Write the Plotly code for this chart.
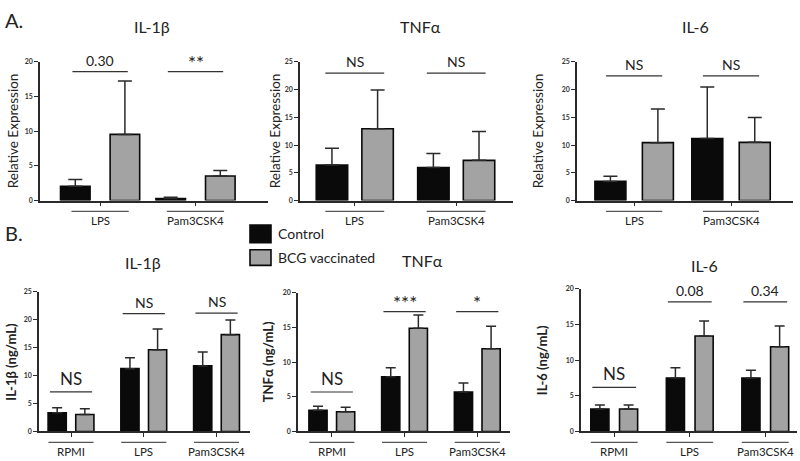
import plotly.graph_objects as go

W, H = 800, 461

# ---------------- data ----------------
groups_A = ["LPS", "Pam3CSK4"]
groups_B = ["RPMI", "LPS", "Pam3CSK4"]
series_names = ["Control", "BCG vaccinated"]

# Panel A (Relative Expression): mean and upper error
a_il1b_ctrl, a_il1b_ctrl_err = [2.05, 0.28], [0.97, 0.2]
a_il1b_bcg, a_il1b_bcg_err = [9.55, 3.55], [7.7, 0.8]
a_tnf_ctrl, a_tnf_ctrl_err = [6.4, 5.95], [3.05, 2.55]
a_tnf_bcg, a_tnf_bcg_err = [12.95, 7.25], [7.0, 5.2]
a_il6_ctrl, a_il6_ctrl_err = [3.45, 11.2], [0.95, 9.3]
a_il6_bcg, a_il6_bcg_err = [10.45, 10.5], [6.05, 4.5]

# Panel B (ng/mL)
b_il1b_ctrl, b_il1b_ctrl_err = [3.35, 11.25, 11.75], [0.9, 1.95, 2.5]
b_il1b_bcg, b_il1b_bcg_err = [3.05, 14.65, 17.35], [1.0, 3.7, 2.6]
b_tnf_ctrl, b_tnf_ctrl_err = [3.05, 7.9, 5.7], [0.6, 1.3, 1.3]
b_tnf_bcg, b_tnf_bcg_err = [2.85, 14.9, 11.95], [0.65, 1.9, 3.25]
b_il6_ctrl, b_il6_ctrl_err = [3.15, 7.5, 7.5], [0.55, 1.45, 1.1]
b_il6_bcg, b_il6_bcg_err = [3.15, 13.4, 11.9], [0.55, 2.1, 2.9]

# significance labels: (group index, bracket height, label)
sig_a_il1b = [(0, 18.6, "0.30"), (1, 18.6, "**")]
sig_a_tnf = [(0, 23.0, "NS"), (1, 23.0, "NS")]
sig_a_il6 = [(0, 22.5, "NS"), (1, 22.5, "NS")]
sig_b_il1b = [(0, 7.1, "NS"), (1, 21.1, "NS"), (2, 21.2, "NS")]
sig_b_tnf = [(0, 5.7, "NS"), (1, 17.3, "***"), (2, 17.3, "*")]
sig_b_il6 = [(0, 6.2, "NS"), (1, 18.2, "0.08"), (2, 18.2, "0.34")]

titles = ["IL-1β", "TNFα", "IL-6"]
ytitles_A = "Relative Expression"
ytitles_B = ["IL-1β (ng/mL)", "TNFα (ng/mL)", "IL-6 (ng/mL)"]

# ---------------- layout config (pixels) ----------------
FONT = "Lato, Open Sans, sans-serif"
BLACK = "#0a0a0a"
GRAY = "#a3a3a3"
LINE = "#2a2a2a"

panels = [
    dict(groups=groups_A, ctrl=(a_il1b_ctrl, a_il1b_ctrl_err), bcg=(a_il1b_bcg, a_il1b_bcg_err),
         sig=sig_a_il1b, title=titles[0], ytitle=ytitles_A,
         xpx=(40, 268), ypx=(58, 199), ymax=20, xr=(-0.63, 1.76), w=0.31, sep=0.26, cap=7,
         tpos=(152, 22), ytx=27, ulw=0.30, sigfont=14, ytfont=13.5, ytbold=False),
    dict(groups=groups_A, ctrl=(a_tnf_ctrl, a_tnf_ctrl_err), bcg=(a_tnf_bcg, a_tnf_bcg_err),
         sig=sig_a_tnf, title=titles[1], ytitle=ytitles_A,
         xpx=(300, 513), ypx=(58, 199), ymax=25, xr=(-0.54, 1.56), w=0.31, sep=0.225, cap=7,
         tpos=(420, 22), ytx=25, ulw=0.29, sigfont=14, ytfont=13.5, ytbold=False),
    dict(groups=groups_A, ctrl=(a_il6_ctrl, a_il6_ctrl_err), bcg=(a_il6_bcg, a_il6_bcg_err),
         sig=sig_a_il6, title=titles[2], ytitle=ytitles_A,
         xpx=(577, 793), ypx=(58, 199), ymax=25, xr=(-0.59, 1.64), w=0.32, sep=0.245, cap=7,
         tpos=(695, 22), ytx=39, ulw=0.29, sigfont=14, ytfont=13.5, ytbold=False),
    dict(groups=groups_B, ctrl=(b_il1b_ctrl, b_il1b_ctrl_err), bcg=(b_il1b_bcg, b_il1b_bcg_err),
         sig=sig_b_il1b, title=titles[0], ytitle=ytitles_B[0],
         xpx=(39, 250), ypx=(292, 434), ymax=25, xr=(-0.44, 2.46), w=0.25, sep=0.19, cap=5,
         tpos=(143, 262), ytx=28, ulw=0.31, sigfont=14, ytfont=13, ytbold=True),
    dict(groups=groups_B, ctrl=(b_tnf_ctrl, b_tnf_ctrl_err), bcg=(b_tnf_bcg, b_tnf_bcg_err),
         sig=sig_b_tnf, title=titles[1], ytitle=ytitles_B[1],
         xpx=(298, 510), ypx=(293, 434), ymax=20, xr=(-0.465, 2.45), w=0.25, sep=0.19, cap=5,
         tpos=(422, 260), ytx=30, ulw=0.31, sigfont=14, ytfont=13, ytbold=True),
    dict(groups=groups_B, ctrl=(b_il6_ctrl, b_il6_ctrl_err), bcg=(b_il6_bcg, b_il6_bcg_err),
         sig=sig_b_il6, title=titles[2], ytitle=ytitles_B[2],
         xpx=(581, 797), ypx=(289, 434), ymax=20, xr=(-0.44, 2.42), w=0.24, sep=0.19, cap=5,
         tpos=(704, 265), ytx=39, ulw=0.31, sigfont=14, ytfont=13, ytbold=True),
]


def px_x(p):
    return p / W


def px_y(p):
    return 1 - p / H


fig = go.Figure()
shapes = []
annotations = []

for i, pc in enumerate(panels, start=1):
    xa = "x" if i == 1 else f"x{i}"
    ya = "y" if i == 1 else f"y{i}"
    n = len(pc["groups"])
    for (vals, errs), color, name, sign in [
        (pc["ctrl"], BLACK, series_names[0], -1),
        (pc["bcg"], GRAY, series_names[1], 1),
    ]:
        fig.add_trace(go.Bar(
            x=pc["groups"], y=vals, name=name, showlegend=False,
            width=[pc["w"]] * n, offset=[sign * pc["sep"] - pc["w"] / 2] * n,
            marker=dict(color=color, line=dict(color=BLACK, width=1.6)),
            error_y=dict(type="data", array=errs, arrayminus=[0] * n, symmetric=False,
                         color=LINE, thickness=1.5, width=pc["cap"]),
            xaxis=xa, yaxis=ya,
        ))

    xdom = [px_x(pc["xpx"][0]), px_x(pc["xpx"][1])]
    ydom = [px_y(pc["ypx"][1]), px_y(pc["ypx"][0])]
    xkey = "xaxis" if i == 1 else f"xaxis{i}"
    ykey = "yaxis" if i == 1 else f"yaxis{i}"
    fig.update_layout(**{
        xkey: dict(domain=xdom, anchor=ya, type="category", categoryorder="array",
                   categoryarray=pc["groups"], range=list(pc["xr"]),
                   showline=True, linecolor=LINE, linewidth=1.5, ticks="outside",
                   ticklen=4, tickwidth=1.2, tickcolor=LINE, showticklabels=False,
                   showgrid=False, zeroline=False, fixedrange=True),
        ykey: dict(domain=ydom, anchor=xa, range=[0, pc["ymax"]], dtick=5, tick0=0,
                   showline=True, linecolor=LINE, linewidth=1.5, ticks="outside",
                   ticklen=4, tickwidth=1.2, tickcolor=LINE,
                   tickfont=dict(size=7, color="#333", family=FONT, weight="bold"),
                   showgrid=False, zeroline=False, fixedrange=True),
    })

    def x2paper(v, pc=pc, xdom=xdom):
        r0, r1 = pc["xr"]
        return xdom[0] + (v - r0) / (r1 - r0) * (xdom[1] - xdom[0])

    # group underline + labels
    for gi, g in enumerate(pc["groups"]):
        yl = px_y(pc["ypx"][1] + 11)
        shapes.append(dict(type="line", xref="paper", yref="paper",
                           x0=x2paper(gi - pc["ulw"]), x1=x2paper(gi + pc["ulw"]),
                           y0=yl, y1=yl, line=dict(color="#555", width=1.2)))
        annotations.append(dict(xref="paper", yref="paper", x=x2paper(gi),
                                y=px_y(pc["ypx"][1] + 20), text=g, showarrow=False,
                                xanchor="center", yanchor="middle",
                                font=dict(size=11.5, color="#222", family=FONT)))

    # significance brackets
    for gi, yv, lab in pc["sig"]:
        shapes.append(dict(type="line", xref=xa, yref=ya, x0=gi - 0.29, x1=gi + 0.29,
                           y0=yv, y1=yv, line=dict(color="#333", width=1.2)))
        fs = pc["sigfont"]
        ysh = 1
        if lab == "NS" and yv < 10:
            fs = 17
        if lab.startswith("*"):
            fs = 19
            ysh = -4
        annotations.append(dict(xref=xa, yref=ya, x=gi, y=yv, text=lab, showarrow=False,
                                xanchor="center", yanchor="bottom", yshift=ysh,
                                font=dict(size=fs, color="#222", family=FONT)))

    # panel title
    annotations.append(dict(xref="paper", yref="paper", x=px_x(pc["tpos"][0]),
                            y=px_y(pc["tpos"][1]), text=pc["title"], showarrow=False,
                            xanchor="center", yanchor="middle",
                            font=dict(size=16, color="#222", family=FONT)))
    # y axis title
    annotations.append(dict(xref="paper", yref="paper",
                            x=px_x(pc["xpx"][0] - pc["ytx"]),
                            y=(ydom[0] + ydom[1]) / 2, text=pc["ytitle"], showarrow=False,
                            textangle=-90, xanchor="center", yanchor="middle",
                            font=dict(size=pc["ytfont"], color="#222", family=FONT,
                                      weight="bold" if pc["ytbold"] else "normal")))

# section letters
annotations.append(dict(xref="paper", yref="paper", x=px_x(3), y=px_y(15), text="A.",
                        showarrow=False, xanchor="left", yanchor="middle",
                        font=dict(size=20, color="#222", family=FONT)))
annotations.append(dict(xref="paper", yref="paper", x=px_x(3), y=px_y(232), text="B.",
                        showarrow=False, xanchor="left", yanchor="middle",
                        font=dict(size=20, color="#222", family=FONT)))

# legend
for (top, bot), color, name in [((224, 242), BLACK, series_names[0]),
                                ((249, 265), GRAY, series_names[1])]:
    shapes.append(dict(type="rect", xref="paper", yref="paper",
                       x0=px_x(250), x1=px_x(271), y0=px_y(bot), y1=px_y(top),
                       fillcolor=color, line=dict(color=BLACK, width=1.6)))
    annotations.append(dict(xref="paper", yref="paper", x=px_x(276),
                            y=px_y((top + bot) / 2), text=name, showarrow=False,
                            xanchor="left", yanchor="middle",
                            font=dict(size=14, color="#222", family=FONT)))

fig.update_layout(
    width=W, height=H, margin=dict(l=0, r=0, t=0, b=0),
    paper_bgcolor="white", plot_bgcolor="white",
    barmode="overlay", shapes=shapes, annotations=annotations,
    font=dict(family=FONT, color="#222"),
)

fig.write_html("out.html", config={"displayModeBar": False},
               post_script="document.body.style.margin='0';document.body.style.overflow='hidden';")
